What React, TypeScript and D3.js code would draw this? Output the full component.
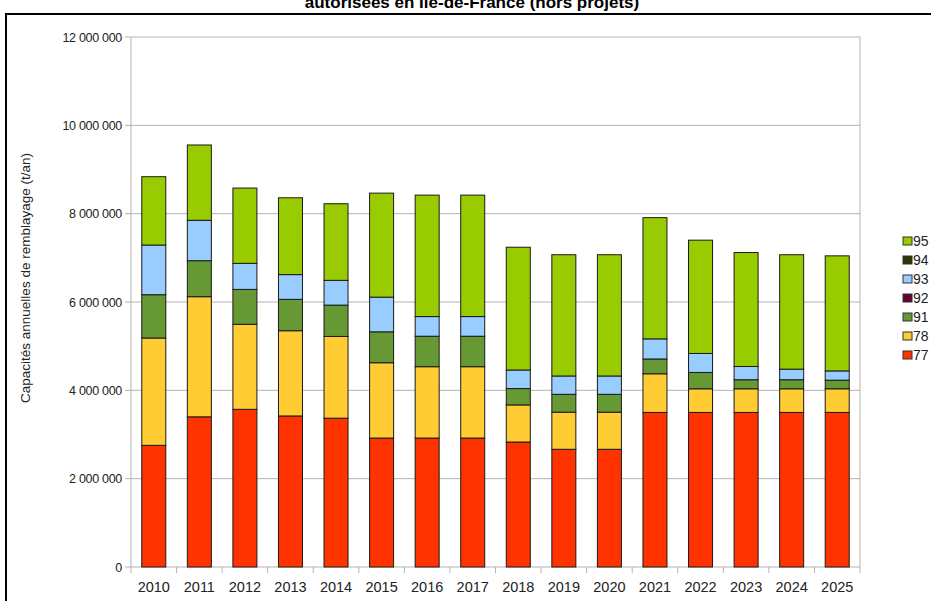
import React from "react";
import * as d3 from "d3";

const years = ["2010","2011","2012","2013","2014","2015","2016","2017","2018","2019","2020","2021","2022","2023","2024","2025"];
const seriesKeys = ["77","78","91","92","93","94","95"];
const legendOrder = ["95","94","93","92","91","78","77"];
const seriesColors = ["#ff3300","#ffcc33","#669933","#660033","#99ccff","#333300","#99cc00"];

const s77 = [2755000,3400000,3570000,3420000,3370000,2920000,2920000,2920000,2830000,2665000,2665000,3500000,3500000,3500000,3500000,3500000];
const s78 = [2430000,2720000,1925000,1930000,1850000,1705000,1615000,1615000,840000,840000,840000,875000,535000,535000,535000,535000];
const s91 = [980000,815000,790000,710000,710000,700000,690000,690000,370000,405000,405000,335000,370000,205000,205000,195000];
const s92 = [0,0,0,0,0,0,0,0,0,0,0,0,0,0,0,0];
const s93 = [1125000,915000,590000,560000,560000,785000,445000,445000,420000,415000,415000,455000,430000,300000,240000,210000];
const s94 = [0,0,0,0,0,0,0,0,0,0,0,0,0,0,0,0];
const s95 = [1547000,1705000,1705000,1740000,1735000,2355000,2750000,2750000,2780000,2745000,2745000,2745000,2565000,2580000,2590000,2605000];

const yTicks = [0,2000000,4000000,6000000,8000000,10000000,12000000];
const titleText = "autorisées en Île-de-France (hors projets)";
const yAxisTitle = "Capacités annuelles de remblayage (t/an)";

export default function App() {
  const W = 931, H = 601;
  const left = 131, right = 860, top = 37, bottom = 567;
  const seriesVals = [s77, s78, s91, s92, s93, s94, s95];
  const rows = years.map((y, i) => {
    const r: any = { year: y };
    seriesKeys.forEach((k, j) => { r[k] = seriesVals[j][i]; });
    return r;
  });
  const stacked = d3.stack().keys(seriesKeys)(rows);
  const x = d3.scaleBand().domain(years).range([left, right]).paddingInner(0.473).paddingOuter(0.2365);
  const y = d3.scaleLinear().domain([0, 12000000]).range([bottom, top]);
  const fmt = (v: number) => d3.format(",")(v).replace(/,/g, " ");
  const color = d3.scaleOrdinal<string, string>().domain(seriesKeys).range(seriesColors);
  const step = x.step();
  const font = "'Liberation Sans', Arial, sans-serif";

  return (
    <svg width={W} height={H} style={{ position: "absolute", left: 0, top: 0, background: "#fff" }} fontFamily={font}>
      <rect x={0} y={0} width={W} height={H} fill="#fff" />
      <text x={472} y={8} textAnchor="middle" fontSize={17} fontWeight="bold" fill="#000">{titleText}</text>
      <rect x={6} y={14} width={W + 20} height={H + 20} fill="none" stroke="#000" strokeWidth={2} />
      {yTicks.map((t) => (
        <line key={"g" + t} x1={left} x2={right} y1={y(t)} y2={y(t)} stroke="#b3b3b3" strokeWidth={1} />
      ))}
      <line x1={right} x2={right} y1={top} y2={bottom} stroke="#b3b3b3" />
      <line x1={left} x2={left} y1={top} y2={bottom + 6} stroke="#b3b3b3" />
      {yTicks.map((t) => (
        <g key={"t" + t}>
          <line x1={left - 6} x2={left} y1={y(t)} y2={y(t)} stroke="#b3b3b3" />
          <text x={left - 9} y={y(t) + 4.5} textAnchor="end" fontSize={12.5} fill="#222" letterSpacing={-0.3}>{fmt(t)}</text>
        </g>
      ))}
      {years.map((yr, i) => (
        <line key={"xt" + yr} x1={left + step * (i + 1)} x2={left + step * (i + 1)} y1={bottom} y2={bottom + 6} stroke="#b3b3b3" />
      ))}
      {stacked.map((layer) => (
        <g key={layer.key} fill={color(layer.key)}>
          {layer.map((d: any, i: number) => (
            d[1] - d[0] > 0 ? (
              <rect key={i} x={x(years[i])} y={y(d[1])} width={x.bandwidth()} height={y(d[0]) - y(d[1])} stroke="#1a1a1a" strokeWidth={1} />
            ) : null
          ))}
        </g>
      ))}
      {years.map((yr) => (
        <text key={"xl" + yr} x={(x(yr) as number) + x.bandwidth() / 2} y={591.5} textAnchor="middle" fontSize={14.5} fill="#222">{yr}</text>
      ))}
      <text transform={`translate(30,278) rotate(-90)`} textAnchor="middle" fontSize={13.5} fill="#222">{yAxisTitle}</text>
      {legendOrder.map((k, i) => (
        <g key={"lg" + k} transform={`translate(903,${237 + i * 19})`}>
          <rect x={0} y={0} width={9} height={8} fill={color(k)} stroke="#333" strokeWidth={1} />
          <text x={10} y={9} fontSize={14} fill="#222">{k}</text>
        </g>
      ))}
    </svg>
  );
}
